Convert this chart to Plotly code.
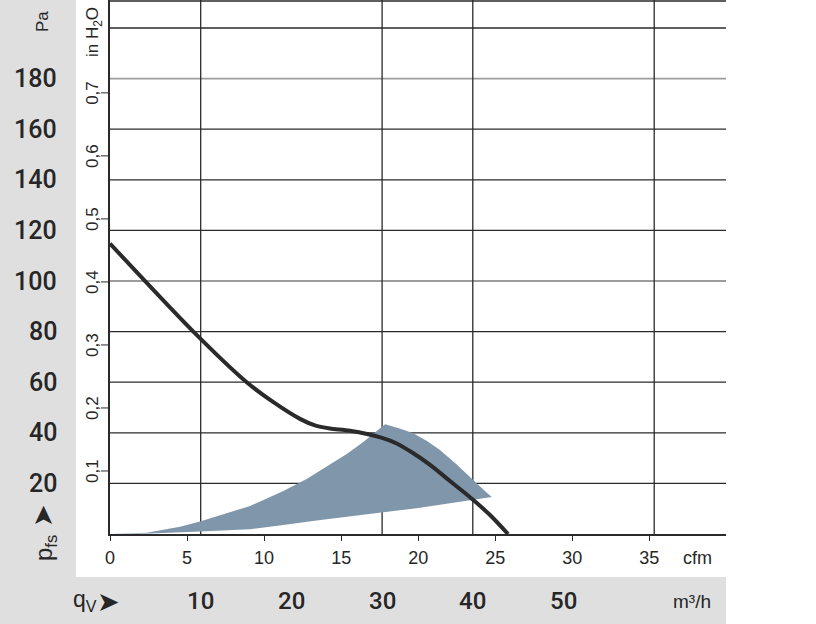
import plotly.graph_objects as go

# ---------------- data ----------------
PA_PER_INH2O = 249.089
M3H_PER_CFM = 1.69901

curve_cfm = [0, 5.41, 8.87, 10.58, 12.33, 13.3, 14.28, 15.57, 17.6, 18.6, 19.66, 20.77, 21.85, 22.93, 23.58, 24.66, 25.83]
curve_pa = [114.8, 80.0, 60.0, 52.2, 45.5, 42.9, 41.7, 40.8, 38.1, 35.8, 32.0, 27.3, 22.0, 16.7, 13.4, 7.5, 0]

area_cfm = [0, 2.38, 4.54, 5.84, 9.09, 11.25, 12.76, 14.28, 15.36, 16.44, 17.31, 17.85,
            18.75, 19.68, 20.57, 21.41, 22.5, 23.58, 24.22, 24.77,
            22.06, 19.9, 17.74, 15.57, 13.41, 11.25, 9.09, 5.84, 2.6, 0]
area_pa = [0, 0.5, 2.9, 4.9, 11.1, 17.0, 21.7, 27.3, 31.6, 36.4, 40.7, 43.4,
           41.8, 39.8, 36.8, 33.2, 27.5, 21.1, 17.6, 14.6,
           12.1, 10.2, 8.6, 6.8, 5.3, 3.6, 1.9, 1.0, 0.2, 0]

cfm_ticks = [0, 5, 10, 15, 20, 25, 30, 35]
pa_ticks = [20, 40, 60, 80, 100, 120, 140, 160, 180]
pa_grid = [20, 40, 60, 80, 100, 120, 140, 160, 180, 200]
pa_grid_light = [100, 180]
inh2o_ticks = [0.1, 0.2, 0.3, 0.4, 0.5, 0.6, 0.7]
inh2o_labels = ["0,1", "0,2", "0,3", "0,4", "0,5", "0,6", "0,7"]
m3h_ticks = [10, 20, 30, 40, 50]
m3h_grid = [10, 30, 40, 60]

# ---------------- style ----------------
FONT = "Liberation Sans, Arial, sans-serif"
BIGFONT = "Roboto, Liberation Sans, sans-serif"
ARROWFONT = "DejaVu Sans"
TXT = "#262626"
DARK = "#2a2a2a"
LIGHT = "#9c9c9c"
STRIP = "#dfdfdf"
W, H = 816, 624
ML, MR, MT, MB = 110, 90, 0, 90
PW, PH = W - ML - MR, H - MT - MB


def px_x(px):
    return (px - ML) / PW


def px_y(py):
    return (H - MB - py) / PH


fig = go.Figure()

fig.add_trace(go.Scatter(
    x=area_cfm, y=area_pa, mode="lines", fill="toself",
    fillcolor="#8097ab", line=dict(width=0, color="#8097ab"),
    hoverinfo="skip", showlegend=False))

fig.add_trace(go.Scatter(
    x=curve_cfm, y=curve_pa, mode="lines",
    line=dict(color=DARK, width=4, shape="spline", smoothing=0.8),
    showlegend=False))

shapes = []
# grey strips
shapes.append(dict(type="rect", xref="paper", yref="paper", x0=px_x(0), x1=px_x(76),
                   y0=px_y(H), y1=px_y(0), fillcolor=STRIP, line=dict(width=0), layer="below"))
shapes.append(dict(type="rect", xref="paper", yref="paper", x0=px_x(0), x1=px_x(726),
                   y0=px_y(H), y1=px_y(577), fillcolor=STRIP, line=dict(width=0), layer="below"))
# horizontal grid
for v in pa_grid:
    light = v in pa_grid_light
    shapes.append(dict(type="line", xref="paper", yref="y", x0=0, x1=1, y0=v, y1=v,
                       line=dict(color=LIGHT if light else DARK, width=1.8 if light else 1.3),
                       layer="below"))
# top border
shapes.append(dict(type="line", xref="paper", yref="paper", x0=0, x1=1, y0=px_y(1), y1=px_y(1),
                   line=dict(color=DARK, width=1.3), layer="below"))
# vertical grid (m3/h)
for v in m3h_grid:
    xc = v / M3H_PER_CFM
    shapes.append(dict(type="line", xref="x", yref="paper", x0=xc, x1=xc, y0=0, y1=1,
                       line=dict(color=DARK, width=1.3), layer="below"))
# in H2O tick marks
for v in inh2o_ticks:
    shapes.append(dict(type="line", xref="paper", yref="y", x0=px_x(101), x1=px_x(110),
                       y0=v * PA_PER_INH2O, y1=v * PA_PER_INH2O,
                       line=dict(color=DARK, width=1)))

ann = []
for v in pa_ticks:
    ann.append(dict(text=str(v), xref="paper", yref="y", x=px_x(59), y=v,
                    xanchor="right", yanchor="middle", showarrow=False,
                    font=dict(family=BIGFONT, size=25, color=TXT, weight=500)))
ann.append(dict(text="Pa", xref="paper", yref="paper", x=px_x(43), y=px_y(22), textangle=-90,
                xanchor="center", yanchor="middle", showarrow=False,
                font=dict(family=FONT, size=17, color=TXT)))
ann.append(dict(text="in H<sub>2</sub>O", xref="paper", yref="paper", x=px_x(94), y=px_y(32),
                textangle=-90, xanchor="center", yanchor="middle", showarrow=False,
                font=dict(family=FONT, size=17, color=TXT)))
for v, lab in zip(inh2o_ticks, inh2o_labels):
    ann.append(dict(text=lab, xref="paper", yref="y", x=px_x(93), y=v * PA_PER_INH2O,
                    textangle=-90, xanchor="center", yanchor="middle", showarrow=False,
                    font=dict(family=FONT, size=17, color=TXT)))
ann.append(dict(text="➤", xref="paper", yref="paper", x=px_x(42), y=px_y(516), textangle=-90,
                xanchor="center", yanchor="middle", showarrow=False,
                font=dict(family=ARROWFONT, size=27, color=TXT)))
ann.append(dict(text="p<sub>fs</sub>", xref="paper", yref="paper", x=px_x(45), y=px_y(548),
                textangle=-90, xanchor="center", yanchor="middle", showarrow=False,
                font=dict(family=FONT, size=24, color=TXT)))
ann.append(dict(text="cfm", xref="paper", yref="paper", x=px_x(697), y=px_y(558),
                xanchor="center", yanchor="middle", showarrow=False,
                font=dict(family=FONT, size=18, color=TXT)))
for v in m3h_ticks:
    ann.append(dict(text=str(v), xref="x", yref="paper", x=v / M3H_PER_CFM, y=px_y(601),
                    xanchor="center", yanchor="middle", showarrow=False,
                    font=dict(family=BIGFONT, size=24, color=TXT, weight=500)))
ann.append(dict(text="m³/h", xref="paper", yref="paper", x=px_x(692), y=px_y(601),
                xanchor="center", yanchor="middle", showarrow=False,
                font=dict(family=FONT, size=19, color=TXT)))
ann.append(dict(text="q<sub>V</sub>", xref="paper", yref="paper", x=px_x(85), y=px_y(600),
                xanchor="center", yanchor="middle", showarrow=False,
                font=dict(family=FONT, size=23, color=TXT)))
ann.append(dict(text="➤", xref="paper", yref="paper", x=px_x(108), y=px_y(601),
                xanchor="center", yanchor="middle", showarrow=False,
                font=dict(family=ARROWFONT, size=27, color=TXT)))

fig.update_layout(
    width=W, height=H, autosize=False,
    margin=dict(l=ML, r=MR, t=MT, b=MB, pad=0),
    paper_bgcolor="white", plot_bgcolor="white",
    shapes=shapes, annotations=ann,
    xaxis=dict(range=[0, PW / 15.41], showgrid=False, zeroline=False,
               showline=True, linecolor=DARK, linewidth=1.5,
               ticks="outside", ticklen=5, tickwidth=1, tickcolor=DARK,
               tickvals=cfm_ticks, ticktext=[str(t) for t in cfm_ticks],
               ticklabelstandoff=2,
               tickfont=dict(family=FONT, size=18, color=TXT), fixedrange=True),
    yaxis=dict(range=[0, PH / 2.53], showgrid=False, zeroline=False,
               showline=True, linecolor=DARK, linewidth=1.5,
               showticklabels=False, ticks="", fixedrange=True),
)

fig.write_html("out.html", config={"displayModeBar": False},
               post_script="document.body.style.margin='0';document.body.style.padding='0';")
